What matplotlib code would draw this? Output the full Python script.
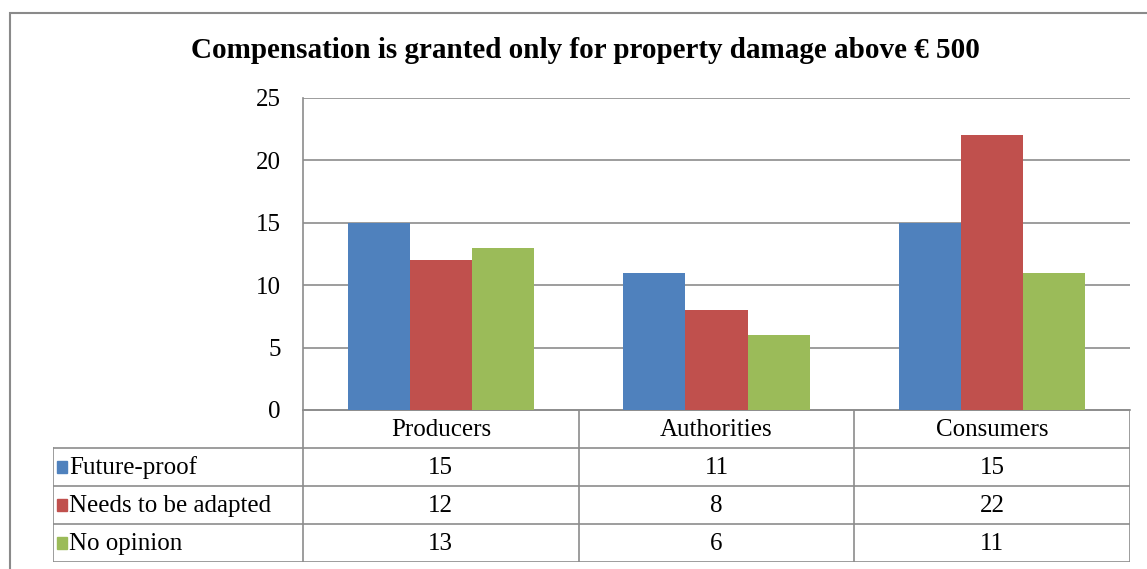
import matplotlib.pyplot as plt
from matplotlib.patches import Rectangle

categories = ['Producers', 'Authorities', 'Consumers']
series_names = ['Future-proof', 'Needs to be adapted', 'No opinion']
future_proof = [15, 11, 15]
needs_adapted = [12, 8, 22]
no_opinion = [13, 6, 11]
yticks = [0, 5, 10, 15, 20, 25]

colors = ['#4F81BD', '#C0504D', '#9BBB59']
grid_col = '#8c8c8c'
plt.rcParams['font.family'] = ['Liberation Serif', 'DejaVu Serif']

W, H = 1147, 569
fig = plt.figure(figsize=(W / 100, H / 100), dpi=100)

# outer chart frame (runs off the right and bottom edge)
fig.patches.append(Rectangle((10 / W, -0.1), 1.2, 1.1 - 13 / H, transform=fig.transFigure,
                             fill=False, edgecolor='#8a8a8a', lw=1.5))

fig.text(585 / W, 1 - 51 / H, 'Compensation is granted only for property damage above € 500',
         ha='center', va='center', fontsize=21, fontweight='bold')

x0, x1, ytop, ybot = 303, 1130, 98, 410
ax = fig.add_axes([x0 / W, 1 - ybot / H, (x1 - x0) / W, (ybot - ytop) / H])

all_series = [future_proof, needs_adapted, no_opinion]
bw = 0.225
xs = range(len(categories))
for i, vals in enumerate(all_series):
    ax.bar([x + (i - 1) * bw for x in xs], vals, width=bw, color=colors[i], zorder=3)

ax.set_xlim(-0.5, len(categories) - 0.5)
ax.set_ylim(0, 25)
ax.set_yticks(yticks)
ax.yaxis.grid(True, color=grid_col, lw=1.2, zorder=0)
ax.set_xticks([])
ax.tick_params(axis='y', length=0, pad=16, labelsize=18)
for s in ['top', 'right']:
    ax.spines[s].set_visible(False)
for s in ['left', 'bottom']:
    ax.spines[s].set_color(grid_col)
    ax.spines[s].set_linewidth(1.2)

# data table below the axis, sharing the category positions
tl, tb = 53, 562
cat_w = (x1 - x0) / len(categories)
label_w = (x0 - tl) / cat_w
tab = fig.add_axes([tl / W, 1 - tb / H, (x1 - tl) / W, (tb - ybot) / H])
tab.set_xlim(-0.5 - label_w, len(categories) - 0.5)
tab.set_ylim(4, 0)
tab.axis('off')
lc = dict(color=grid_col, lw=1.2)
xr = len(categories) - 0.5
xl = -0.5 - label_w
# horizontal lines
tab.plot([-0.5, xr], [0, 0], **lc)
for r in range(1, 5):
    tab.plot([xl, xr], [r, r], **lc)
# vertical lines
tab.plot([xl, xl], [1, 4], **lc)
for c in range(len(categories) + 1):
    tab.plot([c - 0.5, c - 0.5], [0, 4], **lc)

fs = 18
for c, name in enumerate(categories):
    tab.text(c, 0.52, name, ha='center', va='center', fontsize=fs)
for r, (name, vals) in enumerate(zip(series_names, all_series)):
    y = r + 1.52
    tab.add_patch(Rectangle((xl + 0.015, y - 0.17), 0.037, 0.3, color=colors[r]))
    tab.text(xl + 0.058, y, name, ha='left', va='center', fontsize=fs)
    for c, v in enumerate(vals):
        tab.text(c, y, str(v), ha='center', va='center', fontsize=fs)

fig.savefig('out.png', dpi=100)
